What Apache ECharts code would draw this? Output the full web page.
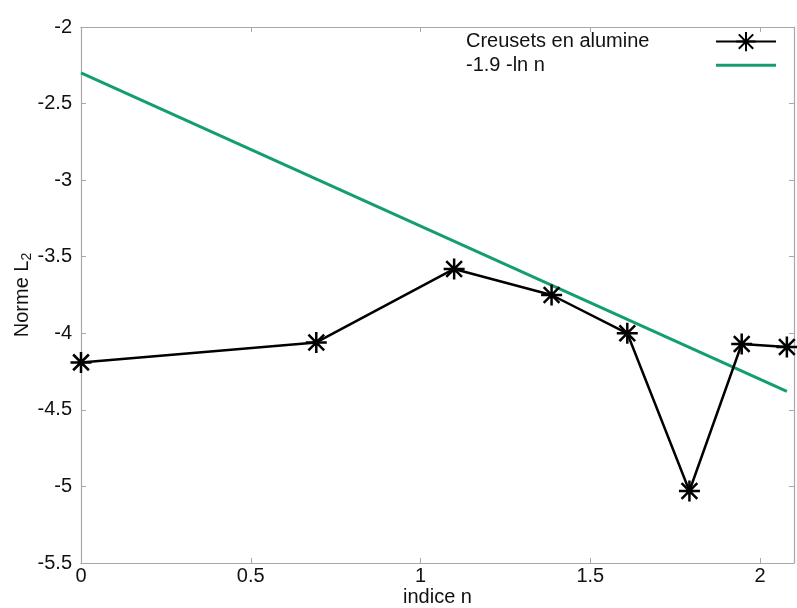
<!DOCTYPE html>
<html>
<head>
<meta charset="utf-8">
<script src="https://cdn.jsdelivr.net/npm/echarts@6/dist/echarts.min.js"></script>
<style>
html,body{margin:0;padding:0;background:#fff;}
#chart{width:797px;height:608px;}
</style>
</head>
<body>
<div id="chart"></div>
<script>
// Data
const seriesNames = ['Creusets en alumine', '-1.9 -ln n'];
const indiceN = [0, 0.693, 1.099, 1.386, 1.609, 1.792, 1.946, 2.079];
const normeL2 = [-4.19, -4.06, -3.58, -3.75, -4.00, -5.03, -4.07, -4.09];
const fitX = [0, 2.079];
const fitY = [-2.30, -4.38];
const xTicks = [0, 0.5, 1, 1.5, 2];
const yTicks = [-5.5, -5, -4.5, -4, -3.5, -3, -2.5, -2];

const FONT = 'Liberation Sans';
const FS = 20;
const starPath = 'path://M-10,0L10,0M0,-10L0,10M-7.5,-7.5L7.5,7.5M-7.5,7.5L7.5,-7.5';
const axisGray = '#a8a8a8';
const green = '#149e70';

function fmt(v, list) {
  for (const t of list) if (Math.abs(t - v) < 1e-6) return String(t);
  return '';
}

const chart = echarts.init(document.getElementById('chart'), null, {renderer: 'canvas'});
const baseAxis = {
  axisLine: {show: true, onZero: false, lineStyle: {color: axisGray, width: 1.2}},
  axisTick: {show: true, inside: true, length: 5, lineStyle: {color: axisGray}},
  splitLine: {show: false}
};
chart.setOption({
  backgroundColor: '#fff',
  animation: false,
  grid: {left: 81, right: 3, top: 27, bottom: 45, containLabel: false, outerBoundsMode: 'none'},
  legend: {
    data: [
      {name: seriesNames[0]},
      {name: seriesNames[1], icon: 'path://M0,0L60,0L60,3L0,3Z'}
    ],
    orient: 'vertical',
    left: 466,
    top: 31,
    padding: 0,
    align: 'right',
    itemWidth: 60,
    itemHeight: 24,
    itemGap: 3,
    formatter: name => '{a|' + name + '}',
    textStyle: {fontFamily: FONT, fontSize: FS, color: '#111',
      rich: {a: {fontFamily: FONT, fontSize: FS, color: '#111', width: 245, align: 'left'}}}
  },
  xAxis: [
    Object.assign({}, baseAxis, {
      type: 'value', min: 0, max: 2.1, interval: 0.5, position: 'bottom',
      name: 'indice n', nameLocation: 'middle', nameGap: 24, nameMoveOverlap: false,
      nameTextStyle: {fontFamily: FONT, fontSize: FS, color: '#111'},
      axisLabel: {fontFamily: FONT, fontSize: FS, color: '#111', margin: 3,
        formatter: v => fmt(v, xTicks)}
    }),
    Object.assign({}, baseAxis, {
      type: 'value', min: 0, max: 2.1, interval: 0.5, position: 'top',
      axisLabel: {show: false}
    })
  ],
  yAxis: [
    Object.assign({}, baseAxis, {
      type: 'value', min: -5.5, max: -2, interval: 0.5, position: 'left',
      name: '{n|Norme L}{s|2}', nameLocation: 'middle', nameGap: 47, nameRotate: 90, nameMoveOverlap: false,
      nameTextStyle: {fontFamily: FONT, fontSize: FS, color: '#111',
        rich: {n: {fontFamily: FONT, fontSize: FS, color: '#111'},
               s: {fontFamily: FONT, fontSize: 14, color: '#111', verticalAlign: 'bottom', padding: [9, 0, 0, 0]}}},
      axisLabel: {fontFamily: FONT, fontSize: FS, color: '#111', margin: 9,
        formatter: v => fmt(v, yTicks)}
    }),
    Object.assign({}, baseAxis, {
      type: 'value', min: -5.5, max: -2, interval: 0.5, position: 'right',
      axisLabel: {show: false}
    })
  ],
  series: [
    {
      name: seriesNames[0],
      type: 'line',
      data: indiceN.map((x, i) => [x, normeL2[i]]),
      symbol: starPath,
      symbolSize: 21,
      showAllSymbol: true,
      lineStyle: {color: '#000', width: 2.5},
      itemStyle: {color: '#000', borderColor: '#000', borderWidth: 2.5},
      z: 3
    },
    {
      name: seriesNames[1],
      type: 'line',
      data: fitX.map((x, i) => [x, fitY[i]]),
      symbol: 'none',
      lineStyle: {color: green, width: 3},
      itemStyle: {color: green},
      z: 2
    }
  ]
});
</script>
</body>
</html>
